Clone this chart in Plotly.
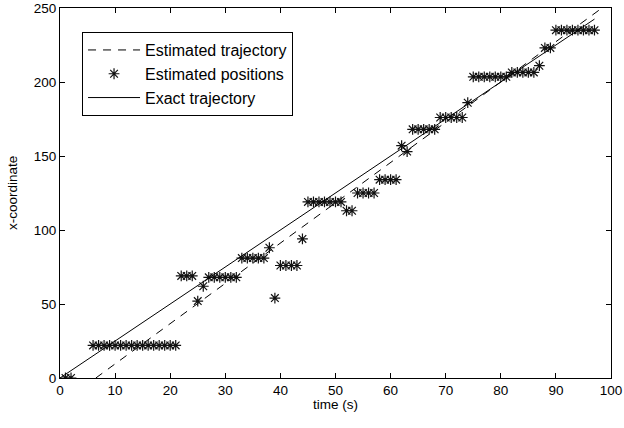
import plotly.graph_objects as go

# Estimated positions (time in s, x-coordinate)
pos_t = [1, 2] + list(range(6, 98))
pos_y = ([0, 0] + [22] * 16 + [69] * 3 + [52, 62] + [68] * 6 + [81] * 5 + [88, 54]
         + [76] * 4 + [94] + [119] * 7 + [113] * 2 + [125] * 4 + [134] * 4 + [157, 153]
         + [168] * 5 + [176] * 5 + [186] + [203.5] * 7 + [206.5] * 5 + [211] + [223] * 2
         + [235] * 8)

# Estimated trajectory (straight line)
est_t = [6.5, 98]
est_y = [0, 249]

# Exact trajectory
exact_t = [0, 97]
exact_y = [0, 242.5]

x_ticks = list(range(0, 101, 10))
y_ticks = list(range(0, 251, 50))

font = "Liberation Sans, Arial, Helvetica, sans-serif"

fig = go.Figure()
fig.add_trace(go.Scatter(x=est_t, y=est_y, mode="lines", name="Estimated trajectory",
                         line=dict(color="black", width=1, dash="8px,7px")))
fig.add_trace(go.Scatter(x=pos_t, y=pos_y, mode="markers", name="Estimated positions",
                         marker=dict(symbol="asterisk-open", size=9, color="#111111",
                                     line=dict(color="#111111", width=1.2))))
fig.add_trace(go.Scatter(x=exact_t, y=exact_y, mode="lines", name="Exact trajectory",
                         line=dict(color="black", width=1)))

axis_common = dict(showgrid=False, zeroline=False, showline=True, linecolor="black",
                   linewidth=1, mirror="ticks", ticks="inside", ticklen=5,
                   tickcolor="black", automargin=False,
                   tickfont=dict(family=font, size=13.5, color="black"))

fig.update_layout(
    width=624, height=428,
    margin=dict(l=60, r=13, t=8, b=50),
    paper_bgcolor="white", plot_bgcolor="white",
    showlegend=True,
    legend=dict(x=0.04, y=0.935, xanchor="left", yanchor="top",
                bgcolor="white", bordercolor="black", borderwidth=1,
                font=dict(family=font, size=16, color="black"),
                itemwidth=52, tracegroupgap=0),
    xaxis=dict(range=[0, 100], tickvals=x_ticks, **axis_common),
    yaxis=dict(range=[0, 250], tickvals=y_ticks, **axis_common),
    annotations=[
        dict(text="x-coordinate", xref="paper", yref="paper",
             x=-0.087, y=0.5, xanchor="center", yanchor="middle",
             textangle=-90, showarrow=False,
             font=dict(family=font, size=13.5, color="black")),
        dict(text="time (s)", xref="paper", yref="paper",
             x=0.5, y=-0.072, xanchor="center", yanchor="middle",
             showarrow=False,
             font=dict(family=font, size=13.5, color="black")),
    ],
)

fig.write_html("out.html", config={"displayModeBar": False},
               post_script="document.body.style.margin='0';document.body.style.overflow='hidden';")
